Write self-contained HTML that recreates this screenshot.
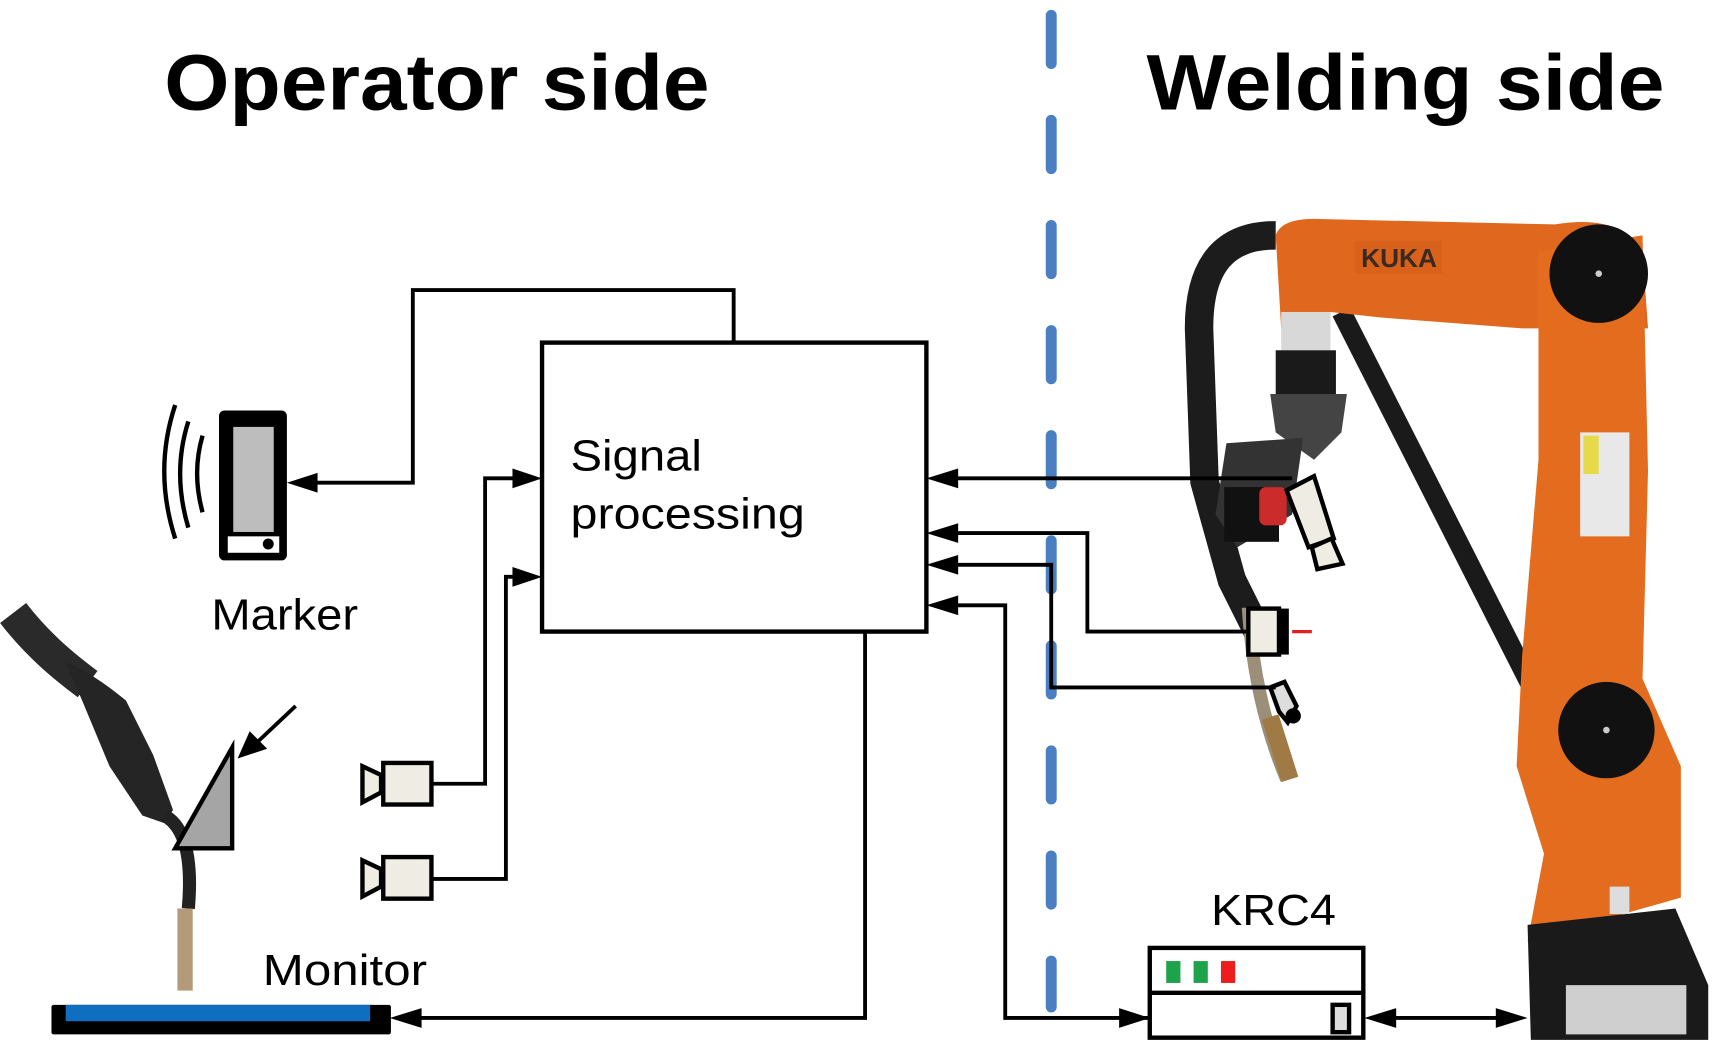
<!DOCTYPE html>
<html><head><meta charset="utf-8"><style>
html,body{margin:0;padding:0;background:#fff;}
svg{display:block;}
</style></head><body>
<svg width="1717" height="1053" viewBox="0 0 1568 962" preserveAspectRatio="none" xmlns="http://www.w3.org/2000/svg" font-family="Liberation Sans, Arial, sans-serif">
<rect width="1568" height="962" fill="#fff"/>
<!-- titles -->
<text x="150" y="100" font-size="72" font-weight="bold" fill="#000" textLength="498" lengthAdjust="spacingAndGlyphs">Operator side</text>
<text x="1047" y="100" font-size="72" font-weight="bold" fill="#000" textLength="473" lengthAdjust="spacingAndGlyphs">Welding side</text>
<!-- dashed separator -->
<line x1="960" y1="14" x2="960" y2="920" stroke="#4a7fc1" stroke-width="10" stroke-linecap="round" stroke-dasharray="44 52"/>

<!-- robot -->
<g>
 <path d="M1225,285 L1400,630" stroke="#1a1a1a" stroke-width="18" fill="none"/>
 <path d="M1165,215 C1120,215 1095,240 1095,300 L1100,440 L1125,530 L1150,580" stroke="#1c1c1c" stroke-width="26" fill="none"/>
 <path d="M1165,215 Q1170,200 1200,200 L1420,205 Q1480,195 1500,230 L1505,300 L1390,300 L1260,290 L1215,285 L1210,300 L1170,300 Z" fill="#e0681e"/>
 <rect x="1237" y="220" width="80" height="30" fill="#d8621c"/>
 <text x="1243" y="244" font-size="24" font-weight="bold" fill="#3a2a20">KUKA</text>
 <path d="M1405,230 L1500,215 L1505,430 L1500,620 L1535,700 L1535,820 L1395,860 L1410,780 L1385,700 L1390,600 L1405,420 Z" fill="#e46c1f"/>
 <circle cx="1460" cy="250" r="45" fill="#111"/>
 <circle cx="1460" cy="250" r="3" fill="#ccc"/>
 <circle cx="1467" cy="667" r="44" fill="#111"/>
 <circle cx="1467" cy="667" r="3" fill="#ccc"/>
 <rect x="1443" y="395" width="45" height="95" fill="#e8e8e8"/>
 <rect x="1446" y="398" width="14" height="35" fill="#e6d94a"/>
 <path d="M1395,845 L1530,830 L1560,900 L1560,950 L1398,950 Z" fill="#1a1a1a"/>
 <rect x="1430" y="900" width="110" height="45" fill="#cfcfcf"/>
 <rect x="1470" y="810" width="18" height="25" fill="#ddd"/>
 <rect x="1170" y="285" width="45" height="35" fill="#d8d8d8"/>
 <rect x="1165" y="320" width="55" height="40" fill="#1a1a1a"/>
 <path d="M1160,360 L1230,360 L1225,395 L1200,420 L1165,395 Z" fill="#444"/>
 <path d="M1120,405 L1190,400 L1180,470 L1130,500 L1110,470 Z" fill="#333"/>
 <rect x="1118" y="445" width="50" height="50" fill="#111"/>
 <rect x="1150" y="445" width="25" height="35" rx="6" fill="#cc2b2b"/>
 <path d="M1140,555 Q1145,640 1175,712" stroke="#9b8f7a" stroke-width="12" fill="none"/>
 <path d="M1160,655 L1178,712" stroke="#a07a45" stroke-width="16" fill="none"/>
 <g stroke="#000" stroke-width="4" fill="#efede3">
  <polygon points="1175,448 1200,435 1218,492 1195,500"/>
  <polygon points="1198,500 1216,492 1226,515 1203,520"/>
 </g>
 <rect x="1140" y="556" width="28" height="42" fill="#efede3" stroke="#000" stroke-width="4"/>
 <rect x="1168" y="556" width="9" height="42" fill="#000"/>
 <line x1="1180" y1="577" x2="1198" y2="577" stroke="#e02020" stroke-width="3"/>
 <polygon points="1160,628 1173,623 1184,645 1176,660 1168,650" fill="#ddd" stroke="#000" stroke-width="4"/>
 <circle cx="1181" cy="654" r="7" fill="#000"/>
</g>

<!-- signal box -->
<rect x="495" y="313" width="351" height="264" fill="none" stroke="#000" stroke-width="4"/>
<text x="521" y="430" font-size="40" fill="#000" textLength="120" lengthAdjust="spacingAndGlyphs">Signal</text>
<text x="521" y="483" font-size="40" fill="#000" textLength="214" lengthAdjust="spacingAndGlyphs">processing</text>

<g stroke="#000" stroke-width="3.5" fill="none">
 <polyline points="670,313 670,265 377,265 377,441 285,441"/>
 <polyline points="395,716 443,716 443,437 470,437"/>
 <polyline points="395,803 462,803 462,527 470,527"/>
 <polyline points="1180,437 872,437"/>
 <polyline points="1140,577 993,577 993,487 872,487"/>
 <polyline points="1165,628 960,628 960,516 872,516"/>
 <polyline points="1050,930 918,930 918,553 872,553"/>
 <polyline points="790,577 790,930 380,930"/>
 <line x1="1270" y1="930" x2="1370" y2="930"/>
 <line x1="270" y1="645" x2="235" y2="678"/>
</g>
<g fill="#000">
 <polygon points="262,441 290,432 290,450"/>
 <polygon points="495,437 468,428 468,446"/>
 <polygon points="495,527 468,518 468,536"/>
 <polygon points="846,437 875,428 875,446"/>
 <polygon points="846,487 875,478 875,496"/>
 <polygon points="846,516 875,507 875,525"/>
 <polygon points="846,553 875,544 875,562"/>
 <polygon points="356,930 385,921 385,939"/>
 <polygon points="1050,930 1022,921 1022,939"/>
 <polygon points="1246,930 1275,921 1275,939"/>
 <polygon points="1395,930 1366,921 1366,939"/>
 <polygon points="217,693 228,668 244,684"/>
</g>

<!-- phone -->
<rect x="200" y="375" width="62" height="137" rx="5" fill="#000"/>
<rect x="213" y="390" width="37" height="96" fill="#bdbdbd"/>
<rect x="208" y="490" width="47" height="15" fill="#fff"/>
<circle cx="245" cy="497" r="5" fill="#000"/>
<g stroke="#000" stroke-width="4" fill="none">
 <path d="M160,370 Q140,430 160,492"/>
 <path d="M172,385 Q157,432 172,482"/>
 <path d="M185,398 Q175,432 185,468"/>
</g>
<text x="193" y="575" font-size="40" fill="#000" textLength="134" lengthAdjust="spacingAndGlyphs">Marker</text>

<!-- cameras left -->
<g stroke="#000" stroke-width="4" fill="#efede3">
 <rect x="350" y="697" width="44" height="38"/>
 <polygon points="331,700 348,708 348,724 331,733"/>
 <rect x="350" y="783" width="44" height="38"/>
 <polygon points="331,786 348,794 348,810 331,819"/>
</g>

<!-- hand torch -->
<path d="M12,560 C35,590 60,610 80,625" stroke="#2a2a2a" stroke-width="30" fill="none"/>
<path d="M60,605 Q85,615 115,640 L140,690 L158,740 L150,752 L130,745 L100,700 L75,640 Z" fill="#252525"/>
<path d="M150,745 Q178,760 172,830" stroke="#222" stroke-width="12" fill="none"/>
<rect x="162" y="830" width="14" height="75" fill="#b39a78"/>
<polygon points="160,775 212,683 212,775" fill="#a5a5a5" stroke="#000" stroke-width="4"/>

<!-- monitor -->
<rect x="47" y="918" width="310" height="27" rx="2" fill="#000"/>
<rect x="60" y="918" width="278" height="15" fill="#0f6ebf"/>
<text x="240" y="900" font-size="40" fill="#000" textLength="150" lengthAdjust="spacingAndGlyphs">Monitor</text>

<!-- KRC4 -->
<text x="1106" y="845" font-size="40" fill="#000" textLength="114" lengthAdjust="spacingAndGlyphs">KRC4</text>
<rect x="1050" y="866" width="195" height="82" fill="#fff" stroke="#000" stroke-width="4"/>
<line x1="1050" y1="907" x2="1245" y2="907" stroke="#000" stroke-width="4"/>
<rect x="1065" y="878" width="13" height="20" fill="#1fa34a"/>
<rect x="1090" y="878" width="13" height="20" fill="#1fa34a"/>
<rect x="1115" y="878" width="13" height="20" fill="#ee1c1c"/>
<rect x="1217" y="918" width="15" height="25" fill="#ddd" stroke="#000" stroke-width="4"/>
</svg>
</body></html>
